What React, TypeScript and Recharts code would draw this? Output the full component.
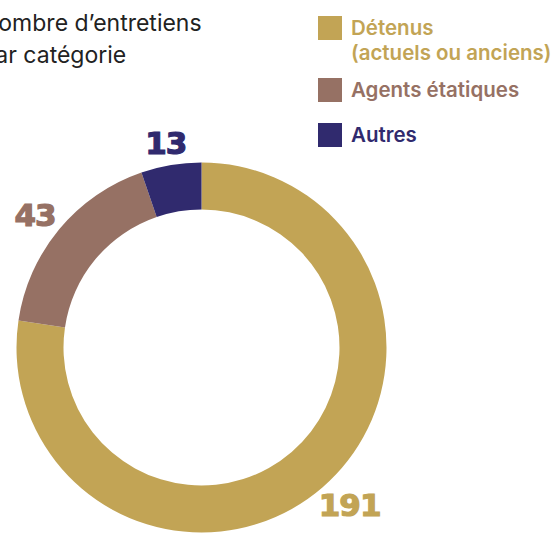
import { PieChart, Pie, Cell, Legend } from 'recharts';

const categories = ['Détenus\n(actuels ou anciens)', 'Agents étatiques', 'Autres'];
const counts = [191, 43, 13];
const colors = ['#C2A455', '#967164', '#302A6E'];

const titleLines = ["Nombre d\u2019entretiens", 'par catégorie'];

const data = categories.map((name, i) => ({ name, value: counts[i], fill: colors[i] }));

const RADIAN = Math.PI / 180;
const LABEL_SIZE = 31;

// label box sits just outside the ring, pushed out along the slice's mid angle
function renderLabel(props: any) {
  const { cx, cy, midAngle, outerRadius, value, fill } = props;
  const cos = Math.cos(-midAngle * RADIAN);
  const sin = Math.sin(-midAngle * RADIAN);
  const r = outerRadius + 11;
  const w = String(value).length * LABEL_SIZE * 0.66;
  const h = LABEL_SIZE * 0.74;
  const x = cx + r * cos + (w / 2) * cos;
  const y = cy + r * sin + (h / 2) * sin;
  return (
    <text
      x={x}
      y={y}
      fill={fill}
      stroke={fill}
      strokeWidth={1.2}
      textAnchor="middle"
      dominantBaseline="central"
      style={{ fontFamily: '"DejaVu Sans", sans-serif', fontWeight: 700, fontSize: LABEL_SIZE, letterSpacing: -1 }}
    >
      {value}
    </text>
  );
}

function LegendContent() {
  return (
    <div style={{ fontFamily: 'Inter, sans-serif', fontWeight: 600, fontSize: 20.5 }}>
      {categories.map((name, i) => (
        <div key={name} style={{ display: 'flex', alignItems: 'flex-start', marginBottom: i === 0 ? 12 : 20 }}>
          <span style={{ width: 24, height: 24, background: colors[i], flex: 'none', marginRight: 9 }} />
          <span style={{ color: colors[i], whiteSpace: 'pre', lineHeight: '25px', position: 'relative', top: -1 }}>{name}</span>
        </div>
      ))}
    </div>
  );
}

export default function App() {
  return (
    <div style={{ position: 'absolute', top: 0, left: 0, width: 556, height: 545, background: '#fff', overflow: 'hidden' }}>
      <div
        style={{
          position: 'absolute',
          left: -19,
          top: 7,
          fontFamily: 'Inter, sans-serif',
          fontSize: 23,
          lineHeight: '32px',
          color: '#222',
          zIndex: 2,
        }}
      >
        {titleLines.map((t) => (
          <div key={t}>{t}</div>
        ))}
      </div>
      <PieChart width={556} height={545} margin={{ top: 0, right: 0, bottom: 0, left: 0 }}>
        <Legend
          layout="vertical"
          verticalAlign="top"
          align="right"
          wrapperStyle={{ top: 16, left: 318, width: 238 }}
          content={<LegendContent />}
        />
        <Pie
          data={data}
          dataKey="value"
          nameKey="name"
          cx={201.5}
          cy={347.5}
          innerRadius={138}
          outerRadius={185}
          startAngle={90}
          endAngle={-270}
          stroke="none"
          labelLine={false}
          label={renderLabel}
          isAnimationActive={false}
        >
          {data.map((d) => (
            <Cell key={d.name} fill={d.fill} />
          ))}
        </Pie>
      </PieChart>
    </div>
  );
}
